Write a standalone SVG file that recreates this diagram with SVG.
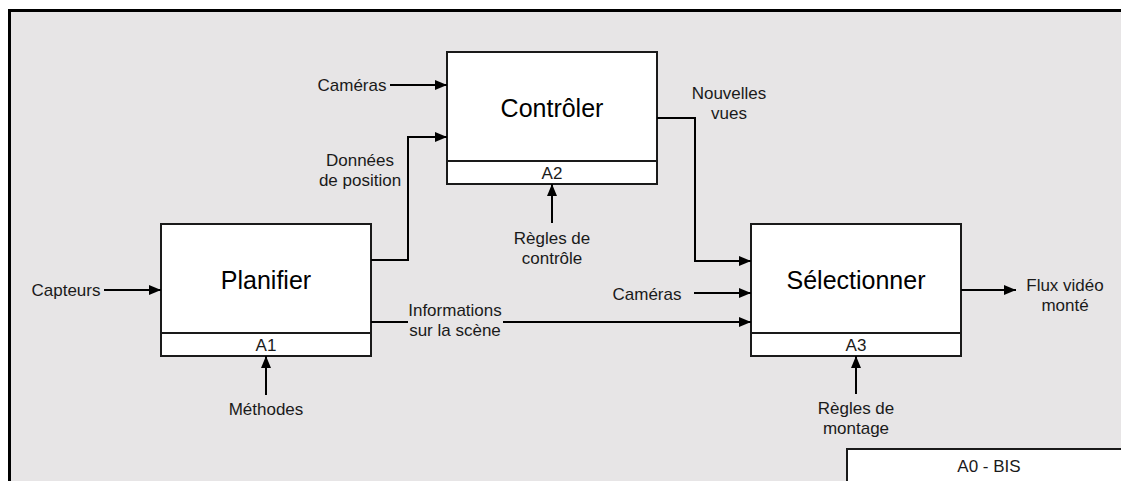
<svg xmlns="http://www.w3.org/2000/svg" width="1121" height="481" viewBox="0 0 1121 481">
<defs>
<marker id="arr" viewBox="0 0 12 10" refX="12" refY="5" markerWidth="13" markerHeight="10" markerUnits="userSpaceOnUse" orient="auto">
<path d="M0,0 L12,5 L0,10 Z" fill="#000"/>
</marker>
<style>
.box{fill:#fff;stroke:#1a1a1a;stroke-width:2}
.title{font-family:"Liberation Sans",Arial,sans-serif;font-size:25px;fill:#000;text-anchor:middle}
.lbl{font-family:"Liberation Sans",Arial,sans-serif;font-size:17px;fill:#1a1a1a;text-anchor:middle}
.conn{fill:none;stroke:#000;stroke-width:2}
.conn-a{fill:none;stroke:#000;stroke-width:2;marker-end:url(#arr)}
</style>
</defs>
<rect x="0" y="0" width="1121" height="481" fill="#fff"/>
<g id="frame">
<rect x="9" y="10" width="1112" height="471" fill="#e7e5e6"/>
<path d="M9.5,481 V10.5 H1121" fill="none" stroke="#000" stroke-width="3"/>
</g>

<g id="node-planifier">
<rect class="box" x="161" y="224" width="210" height="132"/>
<line x1="161" y1="333" x2="371" y2="333" stroke="#1a1a1a" stroke-width="2"/>
<text class="title" x="266" y="289">Planifier</text>
<text class="lbl" x="266" y="351">A1</text>
</g>

<g id="node-controler">
<rect class="box" x="447" y="52" width="210" height="132"/>
<line x1="447" y1="161" x2="657" y2="161" stroke="#1a1a1a" stroke-width="2"/>
<text class="title" x="552" y="117">Contrôler</text>
<text class="lbl" x="552" y="179">A2</text>
</g>

<g id="node-selectionner">
<rect class="box" x="751" y="224" width="210" height="132"/>
<line x1="751" y1="333" x2="961" y2="333" stroke="#1a1a1a" stroke-width="2"/>
<text class="title" x="856" y="289">Sélectionner</text>
<text class="lbl" x="856" y="351">A3</text>
</g>

<g id="node-a0bis">
<rect x="847" y="449" width="274" height="32" fill="#fff"/>
<path d="M847,481 V449 H1121" fill="none" stroke="#1a1a1a" stroke-width="2"/>
<text class="lbl" x="989" y="472">A0 - BIS</text>
</g>

<g id="connectors">
<path class="conn-a" d="M390,85 H447"/>
<path class="conn-a" d="M371,260 H408 V137 H447"/>
<path class="conn-a" d="M657,118 H695 V261 H751"/>
<path class="conn-a" d="M552,223 V184"/>
<path class="conn-a" d="M104,290 H161"/>
<path class="conn" d="M371,322 H408"/>
<path class="conn-a" d="M503,322 H751"/>
<path class="conn-a" d="M694,293 H751"/>
<path class="conn-a" d="M961,290 H1016"/>
<path class="conn-a" d="M266,395 V356"/>
<path class="conn-a" d="M856,394 V356"/>
</g>

<g id="labels">
<text class="lbl" x="352" y="91">Caméras</text>
<text class="lbl" x="360" y="166">Données</text>
<text class="lbl" x="360" y="186">de position</text>
<text class="lbl" x="729" y="99">Nouvelles</text>
<text class="lbl" x="729" y="119">vues</text>
<text class="lbl" x="552" y="244">Règles de</text>
<text class="lbl" x="552" y="264">contrôle</text>
<text class="lbl" x="66" y="296">Capteurs</text>
<text class="lbl" x="455" y="316">Informations</text>
<text class="lbl" x="455" y="336">sur la scène</text>
<text class="lbl" x="647" y="300">Caméras</text>
<text class="lbl" x="1065" y="291">Flux vidéo</text>
<text class="lbl" x="1065" y="311">monté</text>
<text class="lbl" x="266" y="415">Méthodes</text>
<text class="lbl" x="856" y="414">Règles de</text>
<text class="lbl" x="856" y="434">montage</text>
</g>
</svg>
